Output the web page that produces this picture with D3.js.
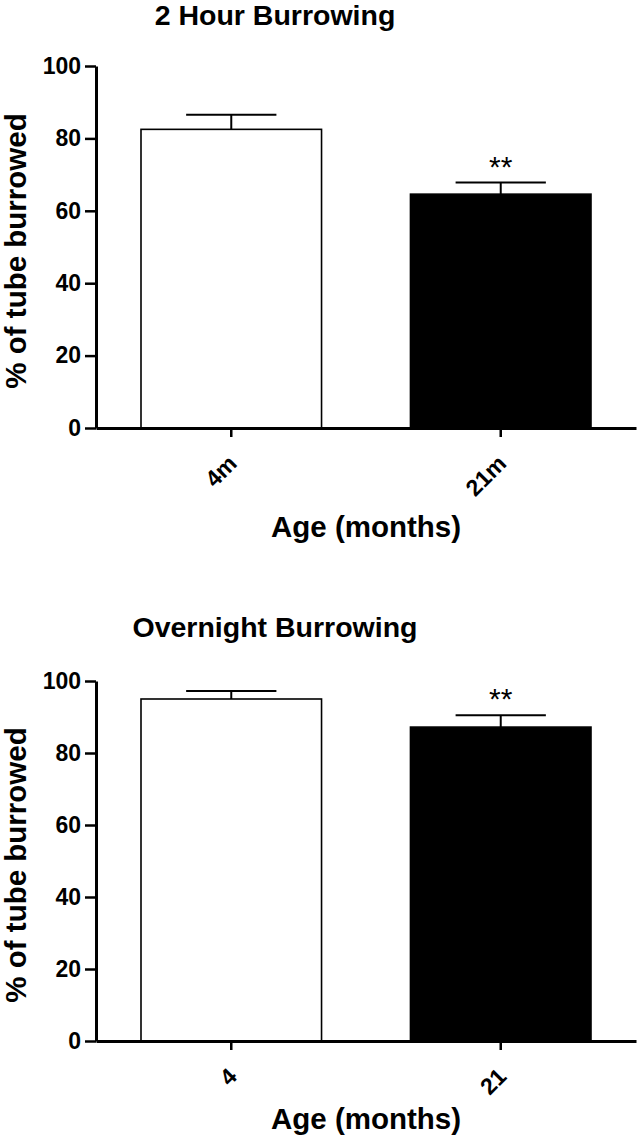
<!DOCTYPE html>
<html>
<head>
<meta charset="utf-8">
<script src="https://cdn.jsdelivr.net/npm/d3@7"></script>
<style>
  body { margin: 0; background: #fff; }
  svg { display: block; font-family: "Liberation Sans", Arial, sans-serif; }
</style>
</head>
<body>
<svg width="638" height="1139"></svg>
<script>
// data
var groups2h = ["4m", "21m"];
var mean2h = [82.5, 64.6];
var sem2h = [4.0, 3.2];
var sig2h = ["", "**"];

var groupsON = ["4", "21"];
var meanON = [95.0, 87.2];
var semON = [2.2, 3.3];
var sigON = ["", "**"];

var yTicks = [0, 20, 40, 60, 80, 100];
var barFill = ["#fff", "#000"];

var svg = d3.select("svg");

function panel(top, bottom, title, titleY, xTitleY, cats, means, sems, sigs) {
  var left = 96, right = 636;

  var x = d3.scaleBand()
      .domain(cats)
      .range([left, right])
      .paddingInner(0.33)
      .paddingOuter(0.167);

  var y = d3.scaleLinear()
      .domain([0, 100])
      .range([bottom, top]);

  var rows = cats.map(function(c, i) {
    return {cat: c, mean: means[i], sem: sems[i], sig: sigs[i], fill: barFill[i]};
  });

  var g = svg.append("g");

  // title
  g.append("text")
      .attr("x", 275)
      .attr("y", titleY)
      .attr("text-anchor", "middle")
      .attr("font-size", 28.5)
      .attr("font-weight", "bold")
      .text(title);

  // error bars (upper only)
  var eb = g.append("g").selectAll("g")
    .data(rows)
    .enter().append("g");

  eb.append("line")
      .attr("x1", function(d) { return x(d.cat) + x.bandwidth() / 2; })
      .attr("x2", function(d) { return x(d.cat) + x.bandwidth() / 2; })
      .attr("y1", function(d) { return y(d.mean); })
      .attr("y2", function(d) { return y(d.mean + d.sem); })
      .attr("stroke", "#000")
      .attr("stroke-width", 2);

  eb.append("line")
      .attr("x1", function(d) { return x(d.cat) + x.bandwidth() * 0.25; })
      .attr("x2", function(d) { return x(d.cat) + x.bandwidth() * 0.75; })
      .attr("y1", function(d) { return y(d.mean + d.sem); })
      .attr("y2", function(d) { return y(d.mean + d.sem); })
      .attr("stroke", "#000")
      .attr("stroke-width", 2);

  // bars
  g.append("g").selectAll("rect")
    .data(rows)
    .enter().append("rect")
      .attr("x", function(d) { return x(d.cat); })
      .attr("y", function(d) { return y(d.mean); })
      .attr("width", x.bandwidth())
      .attr("height", function(d) { return y(0) - y(d.mean); })
      .attr("fill", function(d) { return d.fill; })
      .attr("stroke", "#000")
      .attr("stroke-width", 1.6);

  // significance stars
  g.append("g").selectAll("text")
    .data(rows)
    .enter().append("text")
      .attr("x", function(d) { return x(d.cat) + x.bandwidth() / 2; })
      .attr("y", function(d) { return y(d.mean + d.sem) - 6; })
      .attr("text-anchor", "middle")
      .attr("font-size", 30)
      .text(function(d) { return d.sig; });

  // y axis
  var ya = g.append("g")
      .attr("transform", "translate(" + left + ",0)")
      .call(d3.axisLeft(y).tickValues(yTicks).tickSize(11).tickSizeOuter(0).tickPadding(4));
  ya.select(".domain").attr("stroke-width", 3);
  ya.selectAll(".tick line").attr("stroke-width", 2.5);
  ya.selectAll(".tick text")
      .attr("font-size", 23)
      .attr("font-weight", "bold")
      .attr("font-family", "Liberation Sans, Arial, sans-serif")
      .attr("fill", "#000");

  // x axis
  var xa = g.append("g")
      .attr("transform", "translate(0," + bottom + ")")
      .call(d3.axisBottom(x).tickSize(9).tickSizeOuter(0));
  xa.select(".domain").attr("stroke-width", 3);
  xa.selectAll(".tick line").attr("stroke-width", 2.5);
  xa.selectAll(".tick text")
      .attr("font-size", 23)
      .attr("font-weight", "bold")
      .attr("font-family", "Liberation Sans, Arial, sans-serif")
      .attr("fill", "#000")
      .attr("text-anchor", "end")
      .attr("dy", null)
      .attr("y", null)
      .attr("transform", "translate(7,37) rotate(-45)");

  // axis titles
  g.append("text")
      .attr("x", (left + right) / 2)
      .attr("y", xTitleY)
      .attr("text-anchor", "middle")
      .attr("font-size", 29.5)
      .attr("font-weight", "bold")
      .text("Age (months)");

  g.append("text")
      .attr("transform", "translate(26," + ((top + bottom) / 2 + 4) + ") rotate(-90)")
      .attr("text-anchor", "middle")
      .attr("font-size", 29.5)
      .attr("font-weight", "bold")
      .text("% of tube burrowed");
}

panel(66, 428, "2 Hour Burrowing", 25, 537, groups2h, mean2h, sem2h, sig2h);
panel(681, 1041, "Overnight Burrowing", 637, 1129, groupsON, meanON, semON, sigON);
</script>
</body>
</html>
